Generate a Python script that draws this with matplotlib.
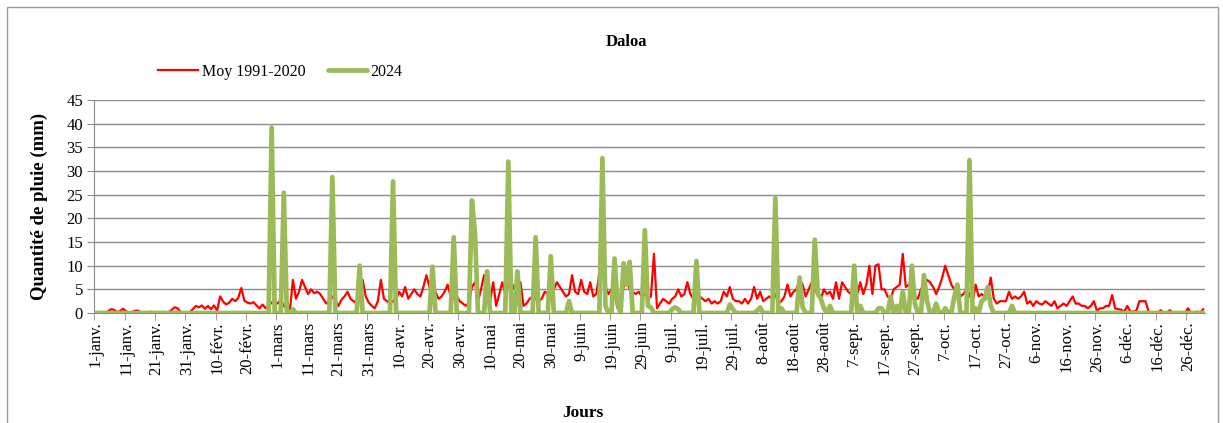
import numpy as np
import matplotlib
matplotlib.use("Agg")
import matplotlib.pyplot as plt
from matplotlib.patches import Rectangle

plt.rcParams['font.family'] = ['Liberation Serif', 'DejaVu Serif']

# Moyenne journaliere 1991-2020 (mm), par mois
moy_janv = [0, 0, 0.2, 0, 0.3, 0.8, 0.7, 0.2, 0.4, 0.9, 0.4, 0, 0.2, 0.5, 0.5, 0,
            0, 0, 0.3, 0, 0, 0, 0, 0, 0.2, 0.6, 1.2, 1.0, 0.2, 0, 0]
moy_fevr = [0.2, 0.8, 1.5, 1.2, 1.6, 0.9, 1.5, 0.8, 1.6, 0.5, 3.5, 2.4, 1.8, 2.2, 3.0,
            2.5, 3.2, 5.3, 2.6, 2.2, 2.0, 2.3, 1.6, 1.0, 1.8, 1.0, 1.5, 2.2, 2.5]
moy_mars = [2.0, 2.8, 1.5, 1.0, 0.5, 7.0, 3.0, 4.5, 7.0, 5.5, 4.0, 5.0, 4.2, 4.5, 4.0,
            3.0, 2.0, 2.5, 3.5, 2.5, 1.5, 2.8, 3.5, 4.5, 3.0, 2.5, 2.0, 2.5, 7.0, 3.5, 2.2]
moy_avr = [1.5, 1.0, 2.5, 7.0, 3.0, 2.5, 2.0, 2.5, 3.0, 4.5, 3.5, 5.5, 3.0, 4.0, 5.0,
           4.0, 3.5, 5.5, 8.0, 5.5, 3.5, 4.5, 3.0, 3.5, 4.5, 6.0, 3.5, 3.0, 3.5, 2.5]
moy_mai = [2.0, 1.5, 2.2, 5.5, 6.5, 2.5, 5.0, 8.0, 4.0, 2.5, 6.5, 1.5, 4.0, 6.5, 4.0,
           6.0, 6.5, 5.0, 6.5, 6.5, 1.5, 2.0, 3.0, 3.5, 3.0, 2.5, 3.0, 4.5, 4.0, 5.0, 5.0]
moy_juin = [6.5, 5.5, 4.5, 3.5, 4.0, 8.0, 4.5, 4.0, 7.0, 4.5, 4.0, 6.5, 3.5, 4.0, 8.5,
            9.0, 5.5, 4.0, 5.0, 4.0, 1.0, 2.5, 5.5, 7.0, 5.0, 4.5, 4.0, 4.5, 3.5, 4.0]
moy_juil = [3.0, 3.5, 12.5, 1.0, 2.0, 3.0, 2.5, 2.0, 3.0, 3.5, 5.0, 3.5, 4.0, 6.5, 4.0,
            3.0, 4.5, 3.5, 3.0, 2.5, 3.0, 2.0, 2.5, 2.0, 2.5, 4.5, 3.5, 5.5, 3.0, 2.5, 2.5]
moy_aout = [2.0, 3.0, 2.0, 3.0, 5.5, 3.0, 4.5, 2.5, 3.0, 3.5, 3.0, 4.0, 2.0, 2.5, 3.5,
            6.0, 3.5, 4.5, 5.0, 7.0, 6.0, 3.5, 5.0, 6.5, 5.0, 4.0, 3.0, 5.0, 4.0, 4.5, 3.0]
moy_sept = [6.5, 3.0, 6.5, 5.5, 4.5, 4.0, 5.5, 4.0, 6.5, 4.0, 6.0, 10.0, 4.0, 10.0, 10.3,
            5.0, 5.0, 3.5, 3.0, 5.0, 5.5, 6.0, 12.5, 5.5, 6.0, 5.5, 3.5, 3.0, 5.0, 6.0]
moy_oct = [7.0, 6.5, 5.5, 4.0, 5.5, 7.5, 10.0, 8.0, 6.0, 5.0, 5.5, 3.5, 4.0, 5.0, 4.0,
           2.0, 6.0, 3.5, 4.0, 3.5, 4.0, 7.5, 3.0, 2.0, 2.5, 2.5, 2.5, 4.5, 3.0, 3.5, 3.0]
moy_nov = [3.5, 4.5, 2.0, 2.5, 1.5, 2.5, 2.0, 1.8, 2.5, 2.0, 1.5, 2.5, 1.0, 1.5, 2.0,
           1.5, 2.5, 3.5, 2.0, 2.0, 1.5, 1.5, 1.0, 1.5, 2.5, 0.5, 1.0, 1.0, 1.5, 1.5]
moy_dec = [3.8, 1.0, 0.8, 0.7, 0.3, 1.5, 0.3, 0.3, 0.5, 2.5, 2.5, 2.5, 0.3, 0, 0, 0,
           0.6, 0, 0, 0.6, 0, 0, 0, 0, 0, 1.0, 0, 0, 0.3, 0, 0.8]

# Pluie journaliere 2024 (mm), par mois
p24_janv = [0] * 31
p24_fevr = [0] * 27 + [39.2, 0]
p24_mars = [0, 0, 25.4, 0, 0, 0.8, 0, 0, 0, 0, 0, 0, 0, 0, 0, 0, 0, 0, 28.7, 0,
            0, 0, 0, 0, 0, 0, 0, 10.0, 0, 0, 0]
p24_avr = [0, 0, 0, 0, 0, 0, 0, 27.8, 0, 0, 0, 0, 0, 0, 0, 0, 0, 0, 0, 0,
           9.8, 0, 0, 0, 0, 0, 0, 16.0, 0, 0]
p24_mai = [0, 0, 0, 23.8, 17.0, 0, 0, 0, 8.8, 0, 0, 0, 0, 0, 0, 32.0, 0, 0, 8.8, 0,
           0, 0, 0, 0, 16.0, 0, 0, 0, 0, 12.0, 0]
p24_juin = [0, 0, 0, 0, 2.5, 0, 0, 0, 0, 0, 0, 0, 0, 0, 0, 32.7, 1.5, 0, 0, 11.5,
            2.0, 0, 10.5, 6.0, 10.8, 0, 0, 0, 0, 17.5]
p24_juil = [1.5, 1.2, 0, 0, 0, 0, 0, 0, 0.8, 1.2, 0.8, 0, 0, 0, 0, 0, 11.0, 0, 0, 0,
            0, 0, 0, 0, 0, 0, 0, 1.8, 0.8, 0, 0]
p24_aout = [0, 0, 0, 0, 0, 0.5, 1.2, 0, 0, 0, 0, 24.3, 0, 1.0, 0, 0, 0, 0, 0, 7.5,
            1.2, 0, 0, 0, 15.5, 4.0, 3.0, 1.0, 0, 1.5, 0]
p24_sept = [0, 0, 0, 0, 0, 0, 10.0, 0, 1.5, 0, 0, 0, 0, 0, 1.0, 1.0, 0, 0, 3.5, 0,
            1.5, 0, 4.5, 0, 0, 10.0, 2.0, 0, 0, 8.0]
p24_oct = [2.5, 0, 0, 2.0, 0, 0, 1.0, 0, 0, 3.5, 6.0, 0, 0, 0, 32.3, 0, 1.0, 0, 2.5,
           3.0, 5.5, 1.5, 0, 0, 0, 0, 0, 0, 1.5, 0, 0]
p24_nov = [0] * 30
p24_dec = [0] * 31

labels_x = ['1-janv.', '11-janv.', '21-janv.', '31-janv.', '10-févr.', '20-févr.',
            '1-mars', '11-mars', '21-mars', '31-mars', '10-avr.', '20-avr.', '30-avr.',
            '10-mai', '20-mai', '30-mai', '9-juin', '19-juin', '29-juin', '9-juil.',
            '19-juil.', '29-juil.', '8-août', '18-août', '28-août', '7-sept.',
            '17-sept.', '27-sept.', '7-oct.', '17-oct.', '27-oct.', '6-nov.',
            '16-nov.', '26-nov.', '6-déc.', '16-déc.', '26-déc.']

moy = np.array(moy_janv + moy_fevr + moy_mars + moy_avr + moy_mai + moy_juin +
               moy_juil + moy_aout + moy_sept + moy_oct + moy_nov + moy_dec)
p24 = np.array(p24_janv + p24_fevr + p24_mars + p24_avr + p24_mai + p24_juin +
               p24_juil + p24_aout + p24_sept + p24_oct + p24_nov + p24_dec)
jours = np.arange(len(moy))

fig = plt.figure(figsize=(12.23, 4.23), dpi=100)
ax = fig.add_axes([0.077, 0.26, 0.908, 0.5036])

# cadre du graphique
fig.patches.append(Rectangle((7 / 1223, -0.2), 1211 / 1223, 1.2 - 7 / 423,
                             transform=fig.transFigure, fill=False,
                             edgecolor='#9a9a9a', linewidth=1.0))

ax.plot(jours, moy, color='#ff0000', linewidth=1.6, label='Moy 1991-2020',
        solid_joinstyle='round', zorder=3)
ax.plot(jours[:len(p24)], p24, color='#9bbb59', linewidth=3.4, label='2024',
        solid_joinstyle='round', solid_capstyle='round', zorder=4)

ax.set_xlim(-0.5, len(moy) - 0.5)
ax.set_ylim(0, 45)
ax.set_yticks(np.arange(0, 46, 5))
ax.yaxis.grid(True, color='#8c8c8c', linewidth=1.0)
ax.set_axisbelow(True)

ax.set_xticks(np.arange(0, len(moy), 10))
ax.set_xticklabels(labels_x, rotation=90, fontsize=12)
ax.set_xticks(np.arange(-0.5, len(moy), 10), minor=True)
ax.tick_params(axis='x', which='major', length=0, pad=6)
ax.tick_params(axis='x', which='minor', length=5, color='#8c8c8c', direction='out')
ax.tick_params(axis='y', length=5, color='#8c8c8c', labelsize=12, pad=3)

for s in ['top', 'right']:
    ax.spines[s].set_visible(False)
for s in ['left', 'bottom']:
    ax.spines[s].set_color('#8c8c8c')

ax.set_ylabel('Quantité de pluie (mm)', fontsize=13.5, fontweight='bold')
ax.yaxis.set_label_coords(-0.042, 0.5)
fig.text(583 / 1223, 1 - 413 / 423, 'Jours', ha='center', va='center',
         fontsize=12.5, fontweight='bold')
fig.text(626 / 1223, 1 - 42 / 423, 'Daloa', ha='center', va='center',
         fontsize=12, fontweight='bold')

fig.legend(loc='center left', bbox_to_anchor=(152 / 1223, 1 - 72 / 423), ncol=2,
           frameon=False, fontsize=11.5, handlelength=2.5, handletextpad=0.2,
           columnspacing=1.4, borderaxespad=0)

fig.savefig('out.png', dpi=100)
